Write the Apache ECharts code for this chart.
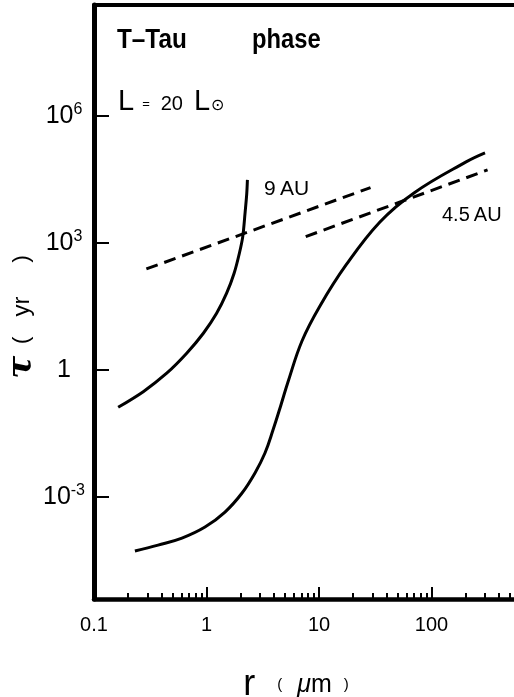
<!DOCTYPE html>
<html>
<head>
<meta charset="utf-8">
<script src="https://cdn.jsdelivr.net/npm/echarts@6/dist/echarts.min.js"></script>
<style>
  html, body { margin: 0; padding: 0; background: #fff; }
  #chart { width: 514px; height: 697px; }
</style>
</head>
<body>
<div id="chart"></div>
<script>
// grain radius r (um) and timescale tau (yr)
const r9au = [0.164, 0.274, 0.443, 0.667, 0.938, 1.23, 1.51, 1.76, 1.96, 2.10, 2.20, 2.28, 2.31];
const tau9au = [0.131, 0.307, 0.836, 2.48, 7.36, 21.8, 64.9, 192, 571, 1410, 5000, 14900, 30800];

const r45au = [0.231, 0.371, 0.605, 0.970, 1.46, 2.07, 2.70, 3.31, 3.90, 4.59, 5.30, 7.06, 10.2, 17.4, 34.8, 69.9, 203, 299];
const tau45au = [5.3e-5, 7.3e-5, 1.07e-4, 1.95e-4, 4.4e-4, 1.24e-3, 3.7e-3, 0.0109, 0.038, 0.149, 0.52, 4.84, 32.5, 302, 3130, 15200, 82000, 134000];

const rDash9au = [0.292, 28.7];
const tauDash9au = [243, 20300];

const rDash45au = [7.62, 315];
const tauDash45au = [1410, 53100];

// axis ticks (as powers of ten)
const xTickExps = [-1, 0, 1, 2];
const xTickLabels = ['0.1', '1', '10', '100'];
const yTickExps = [-3, 0, 3, 6];
const minorMultipliers = [2, 3, 4, 5, 6, 7, 8, 9];
const minorDecades = [-1, 0, 1, 2];

const FONT = '"Liberation Sans", Arial, sans-serif';

const toPoints = (rs, taus) => rs.map((r, i) => [Math.log10(r), Math.log10(taus[i])]);

const minorTicks = [];
minorDecades.forEach(d => minorMultipliers.forEach(m => minorTicks.push(d + Math.log10(m))));

const chart = echarts.init(document.getElementById('chart'));

const solid = { color: '#000', width: 3 };
const dashed = { color: '#000', width: 3, type: [12, 7] };

const option = {
  animation: false,
  backgroundColor: '#fff',
  grid: { left: 94, right: -30, top: 5, bottom: 98, outerBoundsMode: 'none' },
  xAxis: [
    {
      type: 'value',
      min: -1,
      max: 3,
      interval: 1,
      position: 'bottom',
      axisLine: { show: true, onZero: false, lineStyle: { color: '#000', width: 4.5 } },
      axisTick: { show: true, inside: true, length: 12, lineStyle: { color: '#000', width: 2 } },
      axisLabel: {
        margin: 16,
        color: '#000',
        fontSize: 20,
        fontFamily: FONT,
        formatter: v => {
          const i = xTickExps.indexOf(v);
          return i >= 0 ? xTickLabels[i] : '';
        }
      },
      splitLine: { show: false },
      name: '{r|r}{p|(}{u|μ}{m|m}{q|)}',
      nameLocation: 'middle',
      nameGap: 68,
      nameMoveOverlap: false,
      nameTextStyle: {
        padding: [0, 46, 0, 0],
        rich: {
          r: { fontSize: 36, fontFamily: FONT, color: '#000' },
          p: { fontSize: 15, fontFamily: FONT, color: '#000', padding: [0, 0, 0, 22] },
          u: { fontSize: 25, fontFamily: FONT, fontStyle: 'italic', color: '#000', padding: [0, 0, 0, 15] },
          m: { fontSize: 25, fontFamily: FONT, color: '#000' },
          q: { fontSize: 15, fontFamily: FONT, color: '#000', padding: [0, 0, 0, 12] }
        }
      }
    },
    {
      type: 'value',
      min: -1,
      max: 3,
      position: 'bottom',
      axisLine: { show: false, onZero: false },
      axisTick: { show: true, inside: true, length: 6, customValues: minorTicks, lineStyle: { color: '#000', width: 2 } },
      axisLabel: { show: false },
      splitLine: { show: false }
    },
    {
      type: 'value',
      min: -1,
      max: 3,
      position: 'top',
      axisLine: { show: true, onZero: false, lineStyle: { color: '#000', width: 4 } },
      axisTick: { show: false },
      axisLabel: { show: false },
      splitLine: { show: false }
    }
  ],
  yAxis: {
    type: 'value',
    min: -5.41,
    max: 8.62,
    axisLine: { show: true, onZero: false, lineStyle: { color: '#000', width: 5 } },
    axisTick: { show: true, inside: true, length: 15, customValues: yTickExps, lineStyle: { color: '#000', width: 2 } },
    axisLabel: {
      customValues: yTickExps,
      align: 'center',
      margin: 30,
      formatter: v => (v === 0 ? '{b|1}' : '{b|10}{s|' + v + '}'),
      rich: {
        b: { fontSize: 25, fontFamily: FONT, color: '#000' },
        s: { fontSize: 16, fontFamily: FONT, color: '#000', padding: [0, 0, 13, 0] }
      }
    },
    splitLine: { show: false },
    name: '{t|τ}{p|(}{y|yr}{q|)}',
    nameLocation: 'middle',
    nameGap: 55,
    nameMoveOverlap: false,
    nameTextStyle: {
      padding: [0, 30, 0, 0],
      rich: {
        t: { fontSize: 34, fontFamily: '"DejaVu Serif", serif', fontStyle: 'italic', fontWeight: 'bold', color: '#000' },
        p: { fontSize: 22, fontFamily: FONT, color: '#000', padding: [0, 0, 0, 12] },
        y: { fontSize: 24, fontFamily: FONT, color: '#000', padding: [0, 0, 0, 20] },
        q: { fontSize: 22, fontFamily: FONT, color: '#000', padding: [0, 0, 0, 34] }
      }
    }
  },
  graphic: [
    { type: 'text', left: 117, top: 27, z: 100, scaleX: 0.9, style: { text: 'T–Tau', font: 'bold 27px ' + FONT, fill: '#000' } },
    { type: 'text', left: 252, top: 27, z: 100, scaleX: 0.88, style: { text: 'phase', font: 'bold 27px ' + FONT, fill: '#000' } },
    {
      type: 'text', left: 118, top: 87, z: 100,
      style: {
        text: '{a|L}{e|=}{n|20}{b|L}{o|⊙}',
        rich: {
          a: { fontSize: 29, fontFamily: FONT, fill: '#000' },
          e: { fontSize: 13, fontFamily: FONT, fill: '#000', padding: [6, 0, 0, 8] },
          n: { fontSize: 20, fontFamily: FONT, fill: '#000', padding: [5, 0, 0, 11] },
          b: { fontSize: 29, fontFamily: FONT, fill: '#000', padding: [0, 0, 0, 11] },
          o: { fontSize: 16, fontFamily: FONT, fill: '#000', padding: [9, 0, 0, 1] }
        }
      }
    },
    { type: 'text', left: 264, top: 179, z: 100, style: { text: '9\u2009AU', font: '21px ' + FONT, fill: '#000' } },
    { type: 'text', left: 442, top: 205, z: 100, style: { text: '4.5\u2009AU', font: '20px ' + FONT, fill: '#000' } }
  ],
  series: [
    { name: '9 AU', type: 'line', data: toPoints(r9au, tau9au), smooth: 0.3, symbol: 'none', lineStyle: solid },
    { name: '4.5 AU', type: 'line', data: toPoints(r45au, tau45au), smooth: 0.4, symbol: 'none', lineStyle: solid },
    { name: '9 AU dashed', type: 'line', data: toPoints(rDash9au, tauDash9au), symbol: 'none', lineStyle: dashed },
    { name: '4.5 AU dashed', type: 'line', data: toPoints(rDash45au, tauDash45au), symbol: 'none', lineStyle: dashed }
  ]
};

chart.setOption(option);
</script>
</body>
</html>
